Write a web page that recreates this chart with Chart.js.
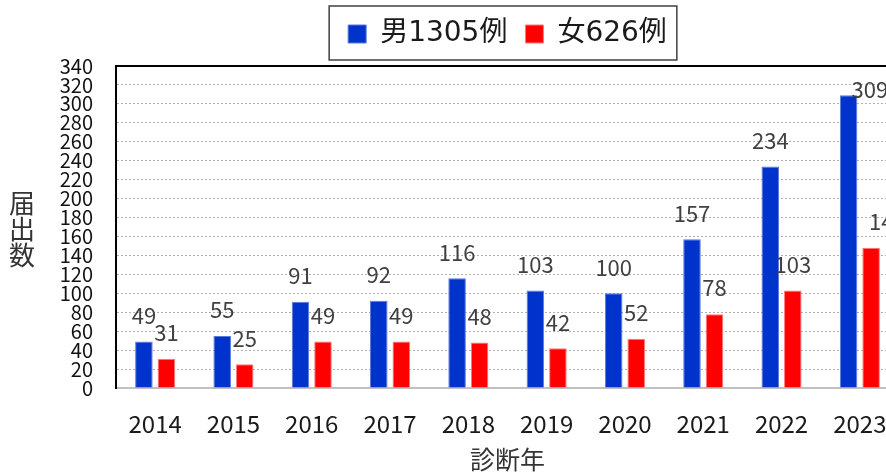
<!DOCTYPE html>
<html>
<head>
<meta charset="utf-8">
<script src="https://cdn.jsdelivr.net/npm/chart.js@4.4.0/dist/chart.umd.min.js"></script>
<style>
  html, body { margin: 0; padding: 0; background: #fff; overflow: hidden; }
  #clip { width: 886px; height: 472px; overflow: hidden; }
  #wrap { width: 1010px; height: 472px; }
</style>
</head>
<body>
<div id="clip"><div id="wrap"><canvas id="myChart"></canvas></div></div>
<script>
// data
var years = ['2014', '2015', '2016', '2017', '2018', '2019', '2020', '2021', '2022', '2023'];
var male = [49, 55, 91, 92, 116, 103, 100, 157, 234, 309];
var female = [31, 25, 49, 49, 48, 42, 52, 78, 103, 148];
var seriesNames = ['男1305例', '女626例'];
var yTitle = '届出数';
var xTitle = '診断年';

var JP = '"Noto Sans CJK JP", "Noto Sans", sans-serif';

// legend gets a few extra px below it (gap between legend box and plot)
var legendGap = {
    id: 'legendGap',
    afterInit: function (chart) {
        var lg = chart.legend;
        if (!lg) return;
        var fit = lg.fit;
        lg.fit = function () {
            fit.call(this);
            this.height += 8;
        };
    }
};

// frame line on top of the plot area + legend border + y title
var framePlugin = {
    id: 'frame',
    beforeDatasetsDraw: function (chart) {
        var ctx = chart.ctx, a = chart.chartArea;
        ctx.save();
        ctx.strokeStyle = '#000';
        ctx.lineWidth = 2;
        ctx.beginPath();
        ctx.moveTo(a.left - 1, a.top);
        ctx.lineTo(a.right, a.top);
        ctx.lineTo(a.right, a.bottom);
        ctx.stroke();
        ctx.restore();
    },
    afterDraw: function (chart) {
        var ctx = chart.ctx;
        var hb = chart.legend.legendHitBoxes;
        if (hb && hb.length) {
            var first = hb[0], last = hb[hb.length - 1];
            var cy = first.top + first.height / 2;
            ctx.save();
            ctx.strokeStyle = '#404040';
            ctx.lineWidth = 1.5;
            ctx.strokeRect(first.left - 19, cy - 28, (last.left + last.width + 10) - (first.left - 19), 54);
            ctx.restore();
        }

        // vertical (stacked) y axis title
        ctx.save();
        ctx.fillStyle = '#333';
        ctx.font = '26px ' + JP;
        ctx.textAlign = 'center';
        ctx.textBaseline = 'middle';
        var mid = (chart.chartArea.top + chart.chartArea.bottom) / 2 + 2;
        var chars = yTitle.split('');
        for (var i = 0; i < chars.length; i++) {
            ctx.fillText(chars[i], 22, mid + (i - (chars.length - 1) / 2) * 26);
        }
        ctx.restore();
    }
};

// value labels above the bars
var labelPlugin = {
    id: 'barLabels',
    afterDatasetsDraw: function (chart, args, opts) {
        var ctx = chart.ctx;
        ctx.save();
        ctx.fillStyle = '#404040';
        ctx.font = '22px ' + JP;
        ctx.textBaseline = 'middle';
        chart.data.datasets.forEach(function (ds, di) {
            chart.getDatasetMeta(di).data.forEach(function (bar, i) {
                var shift = (opts.shift[di] && opts.shift[di][i]) || null;
                if (shift) {
                    ctx.textAlign = 'left';
                    ctx.fillText(ds.data[i], bar.x + shift[0], bar.y + shift[1]);
                } else {
                    ctx.textAlign = 'center';
                    ctx.fillText(ds.data[i], bar.x, bar.y - 26);
                }
            });
        });
        ctx.restore();
    }
};

var ctx = document.getElementById('myChart').getContext('2d');
var chart = new Chart(ctx, {
    type: 'bar',
    data: {
        labels: years,
        datasets: [{
            label: seriesNames[0],
            data: male,
            backgroundColor: '#0033cc',
            borderColor: '#5a78e0',
            borderWidth: 1,
            categoryPercentage: 0.575,
            barPercentage: 0.78
        }, {
            label: seriesNames[1],
            data: female,
            backgroundColor: '#ff0000',
            borderColor: '#ff7a7a',
            borderWidth: 1,
            categoryPercentage: 0.575,
            barPercentage: 0.78
        }]
    },
    options: {
        responsive: true,
        maintainAspectRatio: false,
        animation: false,
        layout: { padding: { top: 2, right: 111, bottom: 0, left: 0 } },
        plugins: {
            legend: {
                position: 'top',
                fullSize: false,
                labels: {
                    boxWidth: 18,
                    boxHeight: 18,
                    padding: 18,
                    color: '#1a1a1a',
                    font: { family: '"DejaVu Sans", "Noto Sans CJK JP", sans-serif', size: 28 }
                }
            },
            tooltip: { enabled: false },
            barLabels: {
                shift: { 0: { 9: [3, -6] }, 1: { 9: [-2, -26] } }
            }
        },
        scales: {
            x: {
                grid: { display: false, drawTicks: false },
                border: { display: true, color: '#c0c0c0', width: 2 },
                ticks: {
                    color: '#1a1a1a',
                    padding: 21,
                    font: { family: JP, size: 24 }
                },
                title: {
                    display: true,
                    text: xTitle,
                    color: '#333',
                    padding: 0,
                    font: { family: JP, size: 25, lineHeight: 1 }
                },
                afterFit: function (scale) { scale.height = 84; }
            },
            y: {
                min: 0,
                max: 340,
                grid: { color: '#b0b0b0', lineWidth: 1, drawTicks: false },
                border: { display: true, color: '#000', width: 2, dash: [2, 2] },
                ticks: {
                    stepSize: 20,
                    autoSkip: false,
                    color: '#111',
                    padding: 23,
                    font: { family: JP, size: 20, lineHeight: 1 }
                },
                afterFit: function (scale) { scale.width = 116; }
            }
        }
    },
    plugins: [legendGap, framePlugin, labelPlugin]
});
</script>
</body>
</html>
